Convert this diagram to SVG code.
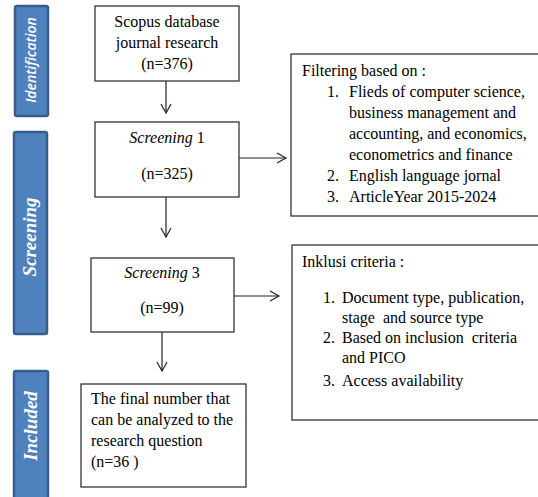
<svg xmlns="http://www.w3.org/2000/svg" width="538" height="497" viewBox="0 0 538 497">
<style>
.box{fill:#fff;stroke:#333;stroke-width:1.3}
.bar{fill:#4F81BD;stroke:#385D8A;stroke-width:2.5}
.t{font-family:"Liberation Serif","Times New Roman",serif;font-size:16px;fill:#000;white-space:pre}
.i{font-style:italic}
.lab{font-family:"Liberation Serif",serif;font-style:italic;font-weight:bold;font-size:19px;fill:#fff}
.lab2{font-family:"Open Sans","Liberation Sans",Arial,sans-serif;font-style:italic;font-size:14px;font-weight:600;fill:#fff}
.c{stroke:#222;stroke-width:1.2;fill:none}
</style>
<defs>
<marker id="ah" markerWidth="12" markerHeight="12" refX="10" refY="6" orient="auto" markerUnits="userSpaceOnUse">
<polyline points="1,1 10,6 1,11" fill="none" stroke="#222" stroke-width="1.2"/>
</marker>
</defs>
<g id="stage-identification">
<rect class="bar" x="15" y="6" width="33" height="110" rx="2"/>
<text class="lab2" transform="translate(36,60) rotate(-90)" text-anchor="middle">Identification</text>
</g>
<g id="stage-screening">
<rect class="bar" x="14" y="132" width="33" height="202" rx="2"/>
<text class="lab" transform="translate(36,237) rotate(-90)" text-anchor="middle">Screening</text>
</g>
<g id="stage-included">
<rect class="bar" x="14" y="371" width="34" height="130" rx="2"/>
<text class="lab" transform="translate(37,426) rotate(-90)" text-anchor="middle">Included</text>
</g>
<g id="connectors">
<line class="c" x1="166" y1="81" x2="166" y2="113" marker-end="url(#ah)"/>
<line class="c" x1="166" y1="197" x2="166" y2="237" marker-end="url(#ah)"/>
<line class="c" x1="239" y1="158" x2="286" y2="158" marker-end="url(#ah)"/>
<line class="c" x1="234" y1="296" x2="279" y2="296" marker-end="url(#ah)"/>
<line class="c" x1="162" y1="332" x2="162" y2="371" marker-end="url(#ah)"/>
</g>
<g id="scopus">
<rect class="box" x="95" y="6" width="144" height="75"/>
<text class="t" x="167" y="27" text-anchor="middle">Scopus database</text>
<text class="t" x="167" y="48" text-anchor="middle">journal research</text>
<text class="t" x="167" y="69" text-anchor="middle">(n=376)</text>
</g>
<g id="screening1">
<rect class="box" x="95" y="122" width="144" height="75"/>
<text class="t" x="167" y="143" text-anchor="middle"><tspan class="i">Screening</tspan> 1</text>
<text class="t" x="167" y="179" text-anchor="middle">(n=325)</text>
</g>
<g id="filtering">
<rect class="box" x="291" y="54" width="260" height="162"/>
<text class="t" x="302" y="76">Filtering based on :</text>
<text class="t" x="327" y="97">1.</text>
<text class="t" x="349" y="97">Flieds of computer science,</text>
<text class="t" x="349" y="118">business management and</text>
<text class="t" x="349" y="139">accounting, and economics,</text>
<text class="t" x="349" y="160">econometrics and finance</text>
<text class="t" x="327" y="181">2.</text>
<text class="t" x="349" y="181">English language jornal</text>
<text class="t" x="327" y="202">3.</text>
<text class="t" x="349" y="202">ArticleYear 2015-2024</text>
</g>
<g id="screening3">
<rect class="box" x="91" y="258" width="143" height="74"/>
<text class="t" x="162" y="278" text-anchor="middle"><tspan class="i">Screening</tspan> 3</text>
<text class="t" x="162" y="313" text-anchor="middle">(n=99)</text>
</g>
<g id="inklusi">
<rect class="box" x="292" y="245" width="260" height="175"/>
<text class="t" x="302" y="267">Inklusi criteria :</text>
<text class="t" x="323" y="303">1.</text>
<text class="t" x="342" y="303">Document type, publication,</text>
<text class="t" x="342" y="323">stage  and source type</text>
<text class="t" x="323" y="343">2.</text>
<text class="t" x="342" y="343">Based on inclusion  criteria</text>
<text class="t" x="342" y="363">and PICO</text>
<text class="t" x="323" y="386">3.</text>
<text class="t" x="342" y="386">Access availability</text>
</g>
<g id="final">
<rect class="box" x="81" y="384" width="165" height="103"/>
<text class="t" x="91" y="404">The final number that</text>
<text class="t" x="91" y="425">can be analyzed to the</text>
<text class="t" x="91" y="446">research question</text>
<text class="t" x="91" y="467">(n=36 )</text>
</g>
</svg>
